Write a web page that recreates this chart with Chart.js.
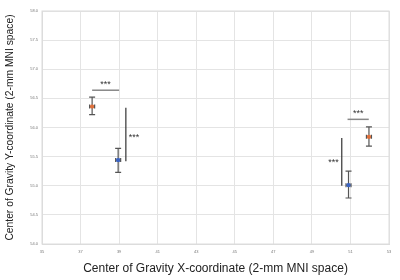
<!DOCTYPE html>
<html><head><meta charset="utf-8">
<script src="https://cdn.jsdelivr.net/npm/chart.js@4/dist/chart.umd.min.js"></script>
<style>html,body{margin:0;padding:0;background:#fff}#wrap{width:400px;height:280px}</style>
</head><body><div id="wrap"><canvas id="c" width="400" height="280"></canvas></div>
<script>
// Data
const groups = ["Left orange", "Left blue", "Right blue", "Right orange"];
const xValues = [37.6, 38.95, 50.9, 51.96];
const yValues = [56.36, 55.44, 55.01, 55.84];
const yErrUp = [0.16, 0.20, 0.24, 0.17];
const yErrDown = [0.14, 0.21, 0.22, 0.16];
const xErr = [0.13, 0.13, 0.13, 0.13];
const pointColors = ["#e0703a", "#3a64c4", "#3a64c4", "#e0703a"];
// significance markers (value coords)
const hBrackets = [ {x1: 37.6, x2: 39.0, y: 56.64, label: "***"}, {x1: 50.85, x2: 51.95, y: 56.14, label: "***"} ];
const vBrackets = [ {x: 39.35, y1: 56.34, y2: 55.42, label: "***", side: "right", ly: 55.83}, {x: 50.55, y1: 55.82, y2: 55.0, label: "***", side: "left", ly: 55.4} ];
const xTicks = [35, 37, 39, 41, 43, 45, 47, 49, 51, 53];
const yTicks = [54, 54.5, 55, 55.5, 56, 56.5, 57, 57.5, 58];

const overlay = {
  id: 'overlay',
  beforeDatasetsDraw(chart) {
    const ctx = chart.ctx, xs = chart.scales.x, ys = chart.scales.y;
    ctx.save();
    ctx.strokeStyle = '#555';
    ctx.lineWidth = 1.2;
    for (let i = 0; i < xValues.length; i++) {
      const px = xs.getPixelForValue(xValues[i]);
      const py = ys.getPixelForValue(yValues[i]);
      const top = ys.getPixelForValue(yValues[i] + yErrUp[i]);
      const bot = ys.getPixelForValue(yValues[i] - yErrDown[i]);
      const l = xs.getPixelForValue(xValues[i] - xErr[i]);
      const r = xs.getPixelForValue(xValues[i] + xErr[i]);
      ctx.beginPath();
      ctx.moveTo(px, top); ctx.lineTo(px, bot);
      ctx.moveTo(px - 3, top); ctx.lineTo(px + 3, top);
      ctx.moveTo(px - 3, bot); ctx.lineTo(px + 3, bot);
      ctx.moveTo(l, py); ctx.lineTo(r, py);
      ctx.moveTo(l, py - 2); ctx.lineTo(l, py + 2);
      ctx.moveTo(r, py - 2); ctx.lineTo(r, py + 2);
      ctx.stroke();
    }
    ctx.restore();
  },
  afterDatasetsDraw(chart) {
    const ctx = chart.ctx, xs = chart.scales.x, ys = chart.scales.y;
    ctx.save();
    ctx.font = '9px "Liberation Sans", Arial, sans-serif';
    ctx.fillStyle = '#333';
    ctx.textAlign = 'center';
    ctx.textBaseline = 'bottom';
    hBrackets.forEach(b => {
      const x1 = xs.getPixelForValue(b.x1), x2 = xs.getPixelForValue(b.x2), y = ys.getPixelForValue(b.y);
      ctx.strokeStyle = '#888'; ctx.lineWidth = 1.5;
      ctx.beginPath(); ctx.moveTo(x1, y); ctx.lineTo(x2, y); ctx.stroke();
      ctx.fillText(b.label, (x1 + x2) / 2, y - 1);
    });
    ctx.textBaseline = 'middle';
    vBrackets.forEach(b => {
      const x = xs.getPixelForValue(b.x), y1 = ys.getPixelForValue(b.y1), y2 = ys.getPixelForValue(b.y2);
      ctx.strokeStyle = '#333'; ctx.lineWidth = 1.2;
      ctx.beginPath(); ctx.moveTo(x, y1); ctx.lineTo(x, y2); ctx.stroke();
      const ly = ys.getPixelForValue(b.ly);
      if (b.side === 'right') { ctx.textAlign = 'left'; ctx.fillText(b.label, x + 3, ly); }
      else { ctx.textAlign = 'right'; ctx.fillText(b.label, x - 3, ly); }
    });
    ctx.restore();
  }
};

new Chart(document.getElementById('c'), {
  type: 'scatter',
  data: {
    datasets: [{
      label: 'Center of Gravity',
      data: xValues.map((x, i) => ({x: x, y: yValues[i]})),
      backgroundColor: pointColors,
      borderColor: pointColors,
      pointRadius: 2,
      pointStyle: 'rect'
    }]
  },
  options: {
    responsive: false,
    animation: false,
    layout: {padding: {top: 11, right: 11, left: 0, bottom: 0}},
    plugins: {legend: {display: false}, tooltip: {enabled: false}},
    scales: {
      x: {
        type: 'linear', min: 35, max: 53,
        afterBuildTicks: s => { s.ticks = xTicks.map(v => ({value: v})); },
        afterFit: s => { s.height = 36; },
        grid: {color: '#e4e4e4', drawTicks: false},
        border: {color: '#dcdcdc'},
        ticks: {font: {size: 4}, color: '#777', padding: 5, maxRotation: 0},
        title: {display: true, text: 'Center of Gravity X-coordinate (2-mm MNI space)', font: {size: 12, family: '"Liberation Sans", Arial, sans-serif'}, color: '#222', padding: {top: 2, bottom: 4}}
      },
      y: {
        type: 'linear', min: 54, max: 58,
        afterBuildTicks: s => { s.ticks = yTicks.map(v => ({value: v})); },
        afterFit: s => { s.width = 42; },
        grid: {color: '#e4e4e4', drawTicks: false},
        border: {color: '#dcdcdc'},
        ticks: {font: {size: 4}, color: '#777', padding: 4},
        title: {display: true, text: 'Center of Gravity Y-coordinate (2-mm MNI space)', font: {size: 10.3, family: '"Liberation Sans", Arial, sans-serif'}, color: '#222', padding: {top: 4, bottom: 2}}
      }
    }
  },
  plugins: [overlay, {
    id: 'frame',
    afterDraw(chart) {
      const a = chart.chartArea, ctx = chart.ctx;
      ctx.save(); ctx.strokeStyle = '#dcdcdc'; ctx.lineWidth = 1;
      ctx.strokeRect(a.left, a.top, a.right - a.left, a.bottom - a.top);
      ctx.restore();
    }
  }]
});
</script></body></html>
